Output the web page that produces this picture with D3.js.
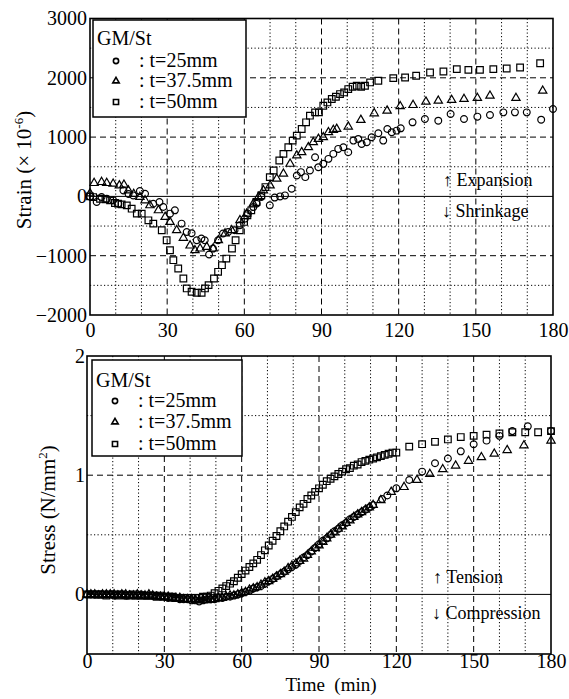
<!DOCTYPE html>
<html>
<head>
<meta charset="utf-8">
<script src="https://cdn.jsdelivr.net/npm/d3@7"></script>
<style>
  body { margin: 0; background: #fff; }
  svg { display: block; }
  svg text { font-family: "Liberation Serif", "Times New Roman", serif; fill: #000; }
</style>
</head>
<body>
<svg width="569" height="699"></svg>
<script>
// ---- strain panel (x 10^-6) ----
const strainTime25 = [0,2.6,4.5,6.5,9,11,13,15,16.8,19.4,21.4,24.6,27,28.5,31.1,33,35.6,37.6,39.5,41.5,43.3,44.6,46.3,47.8,49.8,51.7,53.7,56.2,58.2,60.2,61.4,63.5,64.8,66.6,69.9,71.8,73.9,75.8,78.4,80.4,82,83.7,85.5,87.5,88.8,90.7,92.7,94.6,96.5,98.5,100.4,102.4,104.3,105.6,107.6,109.5,112.1,114,115.6,117.3,119.2,120.8,125.4,130.2,135.4,140.2,145.4,150.6,155.5,160.7,165.2,169.8,175.4,180];
const strainVal25 = [0,-95,-11,-40,-67,-123,101,40,17,90,45,-123,-95,-179,-291,-235,-459,-600,-620,-740,-711,-740,-980,-880,-740,-627,-600,-571,-487,-375,-291,-180,-123,-11,-151,-20,0,17,129,353,409,325,437,661,493,549,633,717,801,829,745,941,969,885,913,997,1064,941,1137,1081,1109,1148,1249,1306,1277,1389,1306,1345,1373,1417,1417,1417,1294,1474];

const strainTime375 = [0,1.6,4.5,6.5,9,11.4,13.2,14.9,17,19.4,21.4,23.3,26.6,29.2,31.1,33.7,36.3,38.9,40.8,42.8,45.4,47.9,49.9,52.5,55.1,58.3,60.9,63.5,65.5,67.4,70,72.6,75.2,77.8,80.4,82.3,84.9,86.8,88.8,90.7,92.7,94.6,95.9,100.4,105.3,110.5,115.5,120.6,125.6,130.6,135.4,140.6,145.4,150.6,155.5,165.6,176];
const strainVal375 = [50,224,241,224,213,185,196,101,40,-11,-67,-151,-235,-347,-431,-571,-700,-830,-908,-880,-852,-880,-740,-627,-571,-403,-291,-123,-11,101,185,297,381,549,689,745,829,913,969,997,1081,1120,1137,1176,1289,1400,1445,1520,1540,1597,1613,1625,1642,1659,1697,1659,1781];

const strainTime50 = [0,1.2,3.9,6,7.8,9.7,10.9,12.3,14.3,16.2,18.2,20.1,22.7,24.6,27.9,29.8,31.1,32.4,34.3,36.3,37.6,39.5,41.5,43.4,44.7,46.1,48.2,49.8,51.3,53,55.2,56.6,58.2,59.9,61.2,62.7,64.7,66.6,68.2,69.9,71.4,73.6,75.2,77.1,78.8,80.4,82.3,84,85.5,87.5,89,90.7,92.3,94,95.6,97.2,98.8,100.4,102.1,103.7,105.4,106.9,108.9,112.1,117.9,122.5,126.8,132.2,137.4,142.6,147.1,151.6,156.8,162,167.2,175];
const strainVal50 = [0,-11,-39,-50,-67,-112,-123,-134,-151,-207,-291,-291,-403,-459,-571,-740,-908,-1076,-1216,-1384,-1552,-1608,-1625,-1625,-1552,-1496,-1384,-1272,-1160,-1048,-880,-740,-571,-431,-319,-235,-95,17,157,325,437,605,717,829,941,1025,1137,1249,1361,1417,1417,1529,1585,1642,1681,1726,1753,1810,1849,1866,1849,1866,1922,1950,1995,2005,2034,2090,2106,2146,2134,2134,2146,2157,2173,2246];

// ---- stress panel (N/mm2) ----
const stressTimeDense = [0,1.5,3,4.5,6,7.5,9,10.5,12,13.5,15,16.5,18,19.5,21,22.5,24,25.5,27,28.5,30,31.5,33,34.5,36,37.5,39,40.5,42,43.5,45,46.5,48,49.5,51,52.5,54,55.5,57,58.5,60,61.5,63,64.5,66,67.5,69,70.5,72,73.5,75,76.5,78,79.5,81,82.5,84,85.5,87,88.5,90,91.5,93,94.5,96,97.5,99,100.5,102,103.5,105,106.5,108,109.5,111,112.5,114,115.5,117,118.5,120];

const stressVal25Dense = [0,0,0,0,0,0,0,-0.01,0,0,-0.01,0,-0.01,-0.01,0,-0.01,-0.01,-0.01,-0.01,-0.02,-0.02,-0.03,-0.03,-0.03,-0.04,-0.04,-0.04,-0.05,-0.05,-0.06,-0.05,-0.04,-0.04,-0.04,-0.03,-0.03,-0.02,-0.02,-0.01,0,0.01,0.02,0.03,0.05,0.06,0.07,0.09,0.11,0.13,0.15,0.17,0.19,0.21,0.23,0.25,0.28,0.31,0.33,0.36,0.39,0.42,0.45,0.47,0.50,0.53,0.55,0.58,0.60,0.63,0.65,0.67,0.69,0.71,0.73,0.75];
const stressTime25Tail = [114.5,116.5,120,125,130,135,140,145,150,155,160,165,171,180];
const stressVal25Tail = [0.80,0.83,0.89,0.96,1.03,1.10,1.14,1.20,1.26,1.29,1.33,1.37,1.41,1.37];

const stressVal375Dense = [0,0,0,-0.01,0,0,0,0,-0.01,0,0,-0.01,-0.01,0,-0.01,-0.01,0,-0.01,-0.02,-0.02,-0.02,-0.02,-0.03,-0.03,-0.03,-0.04,-0.04,-0.04,-0.05,-0.05,-0.05,-0.05,-0.04,-0.04,-0.03,-0.03,-0.02,-0.01,-0.01,0,0.01,0.02,0.04,0.05,0.06,0.08,0.10,0.11,0.13,0.15,0.17,0.19,0.22,0.24,0.26,0.28,0.30,0.33,0.36,0.39,0.41,0.44,0.47,0.50,0.52,0.55,0.57,0.60,0.62,0.65,0.67,0.69,0.71,0.73,0.75];
const stressTime375Tail = [114,118,123,128,133,138,143,148,153,158,163,169.5,180];
const stressVal375Tail = [0.79,0.86,0.90,0.96,1.01,1.05,1.08,1.12,1.15,1.18,1.21,1.25,1.29];

const stressVal50Dense = [0,0,0,0,0,-0.01,0,0,-0.01,0,-0.01,-0.01,0,-0.01,-0.01,-0.01,-0.01,-0.01,-0.02,-0.01,-0.02,-0.02,-0.02,-0.03,-0.03,-0.03,-0.03,-0.03,-0.03,-0.03,-0.02,-0.02,-0.01,0.01,0.03,0.05,0.07,0.09,0.11,0.14,0.17,0.20,0.23,0.26,0.29,0.33,0.37,0.41,0.45,0.49,0.53,0.57,0.61,0.65,0.69,0.73,0.76,0.80,0.83,0.86,0.89,0.92,0.95,0.97,0.99,1.01,1.03,1.05,1.06,1.08,1.09,1.11,1.12,1.13,1.14,1.15,1.16,1.17,1.18,1.19,1.19];
const stressTime50Tail = [125,130,135,140,145,150,155,160,165,170,175,180];
const stressVal50Tail = [1.24,1.26,1.28,1.30,1.32,1.33,1.34,1.35,1.36,1.36,1.36,1.37];

const xTicks = [0,30,60,90,120,150,180];
const legendLabels = [": t=25mm", ": t=37.5mm", ": t=50mm"];
const shapes = [d3.symbolCircle, d3.symbolTriangle, d3.symbolSquare];
const shapeSize = [36, 30, 44];

const svg = d3.select("svg");

function pairs(ts, vs) { return ts.map((t, i) => [t, vs[i]]); }

function panel(o) {
  const x = d3.scaleLinear().domain([0, 180]).range([o.x0, o.x1]);
  const y = d3.scaleLinear().domain(o.yDomain).range([o.y1, o.y0]);
  const g = svg.append("g");

  // grid: dotted every 10 min / half unit, dashed every 30 min / unit
  const minorX = d3.range(10, 180, 10).filter(d => d % 30 !== 0);
  const majorX = [30, 60, 90, 120, 150];
  g.selectAll(".vmin").data(minorX).enter().append("line")
    .attr("x1", d => x(d)).attr("x2", d => x(d)).attr("y1", o.y0).attr("y2", o.y1)
    .attr("stroke", "#000").attr("stroke-width", 1).attr("stroke-dasharray", "1.2,2.3");
  g.selectAll(".hmin").data(o.minorY).enter().append("line")
    .attr("x1", o.x0).attr("x2", o.x1).attr("y1", d => y(d)).attr("y2", d => y(d))
    .attr("stroke", "#000").attr("stroke-width", 1).attr("stroke-dasharray", "1.2,2.3");
  g.selectAll(".vmaj").data(majorX).enter().append("line")
    .attr("x1", d => x(d)).attr("x2", d => x(d)).attr("y1", o.y0).attr("y2", o.y1)
    .attr("stroke", "#000").attr("stroke-width", 1).attr("stroke-dasharray", "6,4");
  g.selectAll(".hmaj").data(o.majorY).enter().append("line")
    .attr("x1", o.x0).attr("x2", o.x1).attr("y1", d => y(d)).attr("y2", d => y(d))
    .attr("stroke", "#000").attr("stroke-width", 1).attr("stroke-dasharray", "6,4");
  g.append("line")
    .attr("x1", o.x0).attr("x2", o.x1).attr("y1", y(0)).attr("y2", y(0))
    .attr("stroke", "#000").attr("stroke-width", 1);

  // legend box
  const lg = g.append("g");
  lg.append("rect").attr("x", o.leg.x).attr("y", o.leg.y).attr("width", o.leg.w).attr("height", o.leg.h)
    .attr("fill", "#fff").attr("stroke", "#000").attr("stroke-width", 1.5);
  lg.append("text").attr("x", o.leg.x + 4).attr("y", o.leg.base[0])
    .attr("font-size", 20).text("GM/St");
  legendLabels.forEach((lab, i) => {
    lg.append("path")
      .attr("d", d3.symbol().type(shapes[i]).size(shapeSize[i] * 0.6)())
      .attr("transform", `translate(${o.leg.x + 23},${o.leg.base[i + 1] - 6})`)
      .attr("fill", "none").attr("stroke", "#000").attr("stroke-width", 1.6);
    lg.append("text").attr("x", o.leg.x + 46).attr("y", o.leg.base[i + 1])
      .attr("font-size", 20).text(lab);
  });

  // data
  o.series.forEach((s, i) => {
    g.append("g").selectAll("path").data(s).enter().append("path")
      .attr("d", d3.symbol().type(shapes[i]).size(shapeSize[i]))
      .attr("transform", d => `translate(${x(d[0])},${y(d[1])})`)
      .attr("fill", "none").attr("stroke", "#000").attr("stroke-width", 1.2);
  });

  // frame
  g.append("rect").attr("x", o.x0).attr("y", o.y0).attr("width", o.x1 - o.x0).attr("height", o.y1 - o.y0)
    .attr("fill", "none").attr("stroke", "#000").attr("stroke-width", 1.6);

  // axes
  const ax = g.append("g").attr("transform", `translate(0,${o.y1})`)
    .call(d3.axisBottom(x).tickValues(xTicks).tickSize(0).tickPadding(o.xPad));
  const ay = g.append("g").attr("transform", `translate(${o.x0},0)`)
    .call(d3.axisLeft(y).tickValues(o.yTicks).tickSize(0).tickPadding(o.yPad).tickFormat(d3.format("d")));
  [ax, ay].forEach(a => {
    a.attr("font-family", null).attr("font-size", null);
    a.select(".domain").remove();
    a.selectAll("text").style("font-family", "'Liberation Serif', serif").style("font-size", "20px");
  });

  // notes
  o.notes.forEach(n => {
    g.append("text").attr("x", n.x).attr("y", n.y).attr("font-size", 18).text(n.t);
  });
  return { x, y };
}

panel({
  x0: 90, x1: 553, y0: 18.5, y1: 315,
  yDomain: [-2000, 3000],
  yTicks: [-2000, -1000, 0, 1000, 2000, 3000],
  minorY: [-1500, -500, 500, 1500, 2500],
  majorY: [-1000, 1000, 2000],
  xPad: 8, yPad: 3,
  leg: { x: 93, y: 20, w: 153, h: 97, base: [45, 67, 87, 108] },
  series: [pairs(strainTime25, strainVal25), pairs(strainTime375, strainVal375), pairs(strainTime50, strainVal50)],
  notes: [{ x: 443, y: 186, t: "\u2191 Expansion" }, { x: 442, y: 217, t: "\u2193 Shrinkage" }]
});

panel({
  x0: 87, x1: 551, y0: 356, y1: 654,
  yDomain: [-0.5, 2],
  yTicks: [0, 1, 2],
  minorY: [0.5, 1.5],
  majorY: [1],
  xPad: 0, yPad: 2,
  leg: { x: 92, y: 360, w: 150, h: 96, base: [387, 407, 428, 450] },
  series: [
    pairs(stressTimeDense.slice(0, 75).concat(stressTime25Tail), stressVal25Dense.concat(stressVal25Tail)),
    pairs(stressTimeDense.slice(0, 75).concat(stressTime375Tail), stressVal375Dense.concat(stressVal375Tail)),
    pairs(stressTimeDense.concat(stressTime50Tail), stressVal50Dense.concat(stressVal50Tail))
  ],
  notes: [{ x: 433, y: 583, t: "\u2191 Tension" }, { x: 432, y: 619, t: "\u2193 Compression" }]
});

// axis titles
const t1 = svg.append("text").attr("transform", "translate(31,170) rotate(-90)")
  .attr("text-anchor", "middle").attr("font-size", 21);
t1.append("tspan").text("Strain (\u00d7 10");
t1.append("tspan").attr("font-size", 13).attr("dy", -8).text("-6");
t1.append("tspan").attr("dy", 8).text(")");

const t2 = svg.append("text").attr("transform", "translate(55,510) rotate(-90)")
  .attr("text-anchor", "middle").attr("font-size", 21);
t2.append("tspan").text("Stress (N/mm");
t2.append("tspan").attr("font-size", 13).attr("dy", -8).text("2");
t2.append("tspan").attr("dy", 8).text(")");

svg.append("text").attr("x", 331).attr("y", 691).attr("text-anchor", "middle")
  .attr("font-size", 19).style("white-space", "pre").text("Time  (min)");
</script>
</body>
</html>
